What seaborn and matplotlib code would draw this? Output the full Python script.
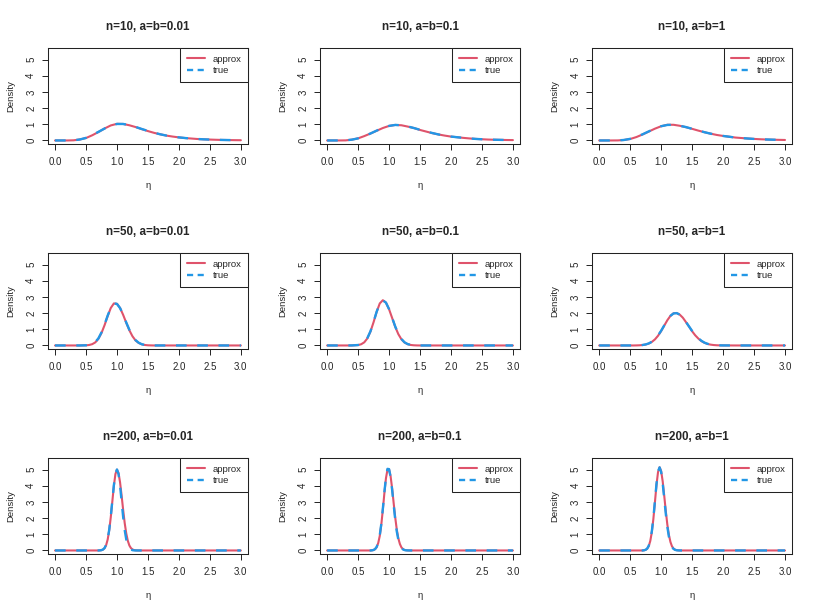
import numpy as np
import pandas as pd
import matplotlib
matplotlib.use('Agg')
import matplotlib.pyplot as plt
from matplotlib.lines import Line2D
import seaborn as sns

sns.set_theme(style='ticks')
plt.rcParams['font.family'] = ['Liberation Sans', 'DejaVu Sans']

RED = '#DF536B'
BLUE = '#2297E6'

n_values = [10, 50, 200]
ab_values = ['0.01', '0.1', '1']

# eta grids per row (n)
eta_n10 = [0.0, 0.1, 0.2, 0.3, 0.4, 0.5, 0.6, 0.7, 0.8, 0.9, 1.0, 1.1, 1.2, 1.3, 1.4, 1.5,
           1.6, 1.7, 1.8, 1.9, 2.0, 2.1, 2.2, 2.3, 2.4, 2.5, 2.6, 2.7, 2.8, 2.9, 3.0]
eta_n50 = [0.0, 0.1, 0.2, 0.3, 0.4, 0.5, 0.55, 0.6, 0.65, 0.7, 0.75, 0.8, 0.85, 0.9, 0.95,
           1.0, 1.05, 1.1, 1.15, 1.2, 1.25, 1.3, 1.35, 1.4, 1.45, 1.5, 1.55, 1.6, 1.65, 1.7,
           1.75, 1.8, 1.85, 1.9, 1.95, 2.0, 2.2, 2.4, 2.6, 2.8, 3.0]
eta_n200 = [0.0, 0.1, 0.2, 0.3, 0.4, 0.5, 0.6, 0.7, 0.725, 0.75, 0.775, 0.8, 0.825, 0.85,
            0.875, 0.9, 0.925, 0.95, 0.975, 1.0, 1.025, 1.05, 1.075, 1.1, 1.125, 1.15,
            1.175, 1.2, 1.225, 1.25, 1.275, 1.3, 1.325, 1.35, 1.4, 1.5, 1.75, 2.0, 2.25,
            2.5, 2.75, 3.0]

# n=10
approx_n10_001 = [0.0, 0.0, 0.0, 0.01, 0.06, 0.15, 0.32, 0.52, 0.74, 0.93, 1.03, 1.02, 0.94, 0.83,
                  0.70, 0.58, 0.47, 0.38, 0.30, 0.24, 0.19, 0.15, 0.12, 0.09, 0.07, 0.055,
                  0.042, 0.032, 0.025, 0.019, 0.015]
true_n10_001 = [0.0, 0.0, 0.0, 0.01, 0.06, 0.16, 0.33, 0.53, 0.74, 0.92, 1.02, 1.02, 0.95, 0.84,
                0.71, 0.59, 0.48, 0.38, 0.30, 0.24, 0.19, 0.15, 0.12, 0.09, 0.07, 0.055,
                0.042, 0.032, 0.025, 0.019, 0.015]
approx_n10_01 = [0.0, 0.0, 0.0, 0.005, 0.05, 0.13, 0.27, 0.43, 0.60, 0.77, 0.90, 0.96, 0.94, 0.86,
                 0.77, 0.65, 0.55, 0.45, 0.37, 0.30, 0.24, 0.20, 0.16, 0.125, 0.095, 0.075,
                 0.056, 0.045, 0.036, 0.028, 0.023]
true_n10_01 = [0.0, 0.0, 0.0, 0.006, 0.05, 0.13, 0.27, 0.43, 0.61, 0.77, 0.90, 0.96, 0.94, 0.87,
               0.77, 0.66, 0.55, 0.46, 0.37, 0.30, 0.24, 0.20, 0.16, 0.125, 0.095, 0.075,
               0.056, 0.045, 0.036, 0.028, 0.023]
approx_n10_1 = [0.0, 0.0, 0.0, 0.003, 0.03, 0.09, 0.21, 0.37, 0.55, 0.73, 0.88, 0.97, 0.97, 0.91,
                0.82, 0.72, 0.61, 0.51, 0.42, 0.34, 0.28, 0.23, 0.18, 0.15, 0.12, 0.095,
                0.075, 0.06, 0.048, 0.038, 0.03]
true_n10_1 = [0.0, 0.0, 0.0, 0.004, 0.03, 0.10, 0.22, 0.38, 0.56, 0.73, 0.88, 0.96, 0.97, 0.91,
              0.83, 0.72, 0.62, 0.51, 0.42, 0.34, 0.28, 0.23, 0.18, 0.15, 0.12, 0.095,
              0.075, 0.06, 0.048, 0.038, 0.03]

# n=50
approx_n50_001 = [0.0, 0.0, 0.0, 0.0, 0.0, 0.009, 0.029, 0.08, 0.19, 0.41, 0.77, 1.26, 1.82, 2.32,
                  2.60, 2.58, 2.32, 1.89, 1.40, 0.94, 0.57, 0.31, 0.157, 0.071, 0.029, 0.011,
                  0.004, 0.0, 0.0, 0.0, 0.0, 0.0, 0.0, 0.0, 0.0, 0.0, 0.0, 0.0, 0.0, 0.0, 0.0]
true_n50_001 = [0.0, 0.0, 0.0, 0.0, 0.0, 0.011, 0.034, 0.09, 0.21, 0.44, 0.81, 1.30, 1.85, 2.33,
                2.60, 2.57, 2.31, 1.90, 1.42, 0.97, 0.60, 0.33, 0.17, 0.078, 0.033, 0.013,
                0.005, 0.0, 0.0, 0.0, 0.0, 0.0, 0.0, 0.0, 0.0, 0.0, 0.0, 0.0, 0.0, 0.0, 0.0]
approx_n50_01 = [0.0, 0.0, 0.0, 0.0, 0.002, 0.025, 0.075, 0.195, 0.44, 0.86, 1.44, 2.08, 2.60, 2.80,
                 2.65, 2.24, 1.70, 1.15, 0.70, 0.38, 0.184, 0.08, 0.031, 0.011, 0.003, 0.0,
                 0.0, 0.0, 0.0, 0.0, 0.0, 0.0, 0.0, 0.0, 0.0, 0.0, 0.0, 0.0, 0.0, 0.0, 0.0]
true_n50_01 = [0.0, 0.0, 0.0, 0.0, 0.003, 0.028, 0.082, 0.21, 0.46, 0.88, 1.46, 2.09, 2.59, 2.79,
               2.65, 2.25, 1.72, 1.17, 0.72, 0.40, 0.195, 0.086, 0.034, 0.012, 0.004, 0.0,
               0.0, 0.0, 0.0, 0.0, 0.0, 0.0, 0.0, 0.0, 0.0, 0.0, 0.0, 0.0, 0.0, 0.0, 0.0]
approx_n50_1 = [0.0, 0.0, 0.0, 0.0, 0.0, 0.0, 0.0, 0.004, 0.011, 0.026, 0.058, 0.117, 0.218, 0.376,
                0.60, 0.89, 1.225, 1.56, 1.83, 1.99, 2.01, 1.91, 1.72, 1.45, 1.17, 0.88,
                0.63, 0.43, 0.27, 0.165, 0.094, 0.051, 0.026, 0.012, 0.006, 0.003, 0.0, 0.0,
                0.0, 0.0, 0.0]
true_n50_1 = [0.0, 0.0, 0.0, 0.0, 0.0, 0.0, 0.0, 0.005, 0.013, 0.030, 0.064, 0.126, 0.23, 0.39,
              0.62, 0.91, 1.24, 1.57, 1.83, 1.98, 2.00, 1.91, 1.72, 1.46, 1.18, 0.90,
              0.65, 0.45, 0.29, 0.175, 0.10, 0.055, 0.028, 0.013, 0.006, 0.003, 0.0, 0.0,
              0.0, 0.0, 0.0]

# n=200
approx_n200_001 = [0.0, 0.0, 0.0, 0.0, 0.0, 0.0, 0.0, 0.0, 0.006, 0.019, 0.056, 0.143, 0.33, 0.68,
                   1.25, 2.06, 3.03, 4.00, 4.73, 5.00, 4.79, 4.21, 3.39, 2.50, 1.69, 1.05,
                   0.60, 0.31, 0.15, 0.066, 0.027, 0.010, 0.003, 0.001, 0.0, 0.0, 0.0, 0.0,
                   0.0, 0.0, 0.0, 0.0]
true_n200_001 = [0.0, 0.0, 0.0, 0.0, 0.0, 0.0, 0.0, 0.0, 0.007, 0.022, 0.062, 0.155, 0.35, 0.71,
                 1.29, 2.11, 3.08, 4.04, 4.76, 5.01, 4.73, 4.00, 3.03, 2.06, 1.25, 0.68,
                 0.33, 0.143, 0.056, 0.019, 0.006, 0.001, 0.0, 0.0, 0.0, 0.0, 0.0, 0.0,
                 0.0, 0.0, 0.0, 0.0]
approx_n200_01 = [0.0, 0.0, 0.0, 0.0, 0.0, 0.0, 0.0, 0.0, 0.009, 0.029, 0.082, 0.205, 0.456, 0.90,
                  1.60, 2.53, 3.56, 4.47, 5.01, 5.02, 4.59, 3.83, 2.91, 2.03, 1.29, 0.75,
                  0.40, 0.19, 0.085, 0.034, 0.013, 0.005, 0.002, 0.0, 0.0, 0.0, 0.0, 0.0,
                  0.0, 0.0, 0.0, 0.0]
true_n200_01 = [0.0, 0.0, 0.0, 0.0, 0.0, 0.0, 0.0, 0.0, 0.010, 0.032, 0.09, 0.22, 0.48, 0.94,
                1.65, 2.59, 3.62, 4.52, 5.05, 5.03, 4.55, 3.74, 2.80, 1.90, 1.17, 0.66,
                0.34, 0.155, 0.066, 0.025, 0.009, 0.003, 0.001, 0.0, 0.0, 0.0, 0.0, 0.0,
                0.0, 0.0, 0.0, 0.0]
approx_n200_1 = [0.0, 0.0, 0.0, 0.0, 0.0, 0.0, 0.0, 0.0, 0.012, 0.039, 0.109, 0.27, 0.59, 1.14,
                 1.96, 2.99, 4.05, 4.85, 5.15, 4.92, 4.28, 3.39, 2.45, 1.61, 0.97, 0.53,
                 0.26, 0.12, 0.049, 0.019, 0.006, 0.002, 0.001, 0.0, 0.0, 0.0, 0.0, 0.0,
                 0.0, 0.0, 0.0, 0.0]
true_n200_1 = [0.0, 0.0, 0.0, 0.0, 0.0, 0.0, 0.0, 0.0, 0.014, 0.043, 0.118, 0.29, 0.62, 1.19,
               2.02, 3.06, 4.11, 4.89, 5.14, 4.86, 4.15, 3.22, 2.28, 1.47, 0.86, 0.46,
               0.22, 0.097, 0.038, 0.014, 0.005, 0.001, 0.0, 0.0, 0.0, 0.0, 0.0, 0.0,
               0.0, 0.0, 0.0, 0.0]

grids = {10: eta_n10, 50: eta_n50, 200: eta_n200}
curves = {
    (10, '0.01'): (approx_n10_001, true_n10_001),
    (10, '0.1'): (approx_n10_01, true_n10_01),
    (10, '1'): (approx_n10_1, true_n10_1),
    (50, '0.01'): (approx_n50_001, true_n50_001),
    (50, '0.1'): (approx_n50_01, true_n50_01),
    (50, '1'): (approx_n50_1, true_n50_1),
    (200, '0.01'): (approx_n200_001, true_n200_001),
    (200, '0.1'): (approx_n200_01, true_n200_01),
    (200, '1'): (approx_n200_1, true_n200_1),
}

fig, axes = plt.subplots(3, 3, figsize=(8.17, 6.13), dpi=100)
fig.subplots_adjust(left=0.0588, right=0.9694, top=0.9217, bottom=0.0962,
                    wspace=0.3617, hspace=1.135)

# legend handles (R-style short dashes in the key)
leg_handles = [Line2D([], [], color=RED, lw=1.5),
               Line2D([], [], color=BLUE, lw=1.7, linestyle=(0, (2.6, 1.9)))]

for i, n in enumerate(n_values):
    for j, ab in enumerate(ab_values):
        ax = axes[i, j]
        approx, true = curves[(n, ab)]
        df = pd.DataFrame({'eta': grids[n], 'approx': approx, 'true': true})
        sns.lineplot(data=df, x='eta', y='approx', color=RED, lw=1.5, ax=ax)
        sns.lineplot(data=df, x='eta', y='true', color=BLUE, lw=1.7, ax=ax)
        ax.lines[1].set_linestyle((0, (4.5, 4.5)))
        ax.set_xlim(-0.113, 3.113)
        ax.set_ylim(-0.22, 5.72)
        ax.set_xticks([0.0, 0.5, 1.0, 1.5, 2.0, 2.5, 3.0])
        ax.set_xticklabels(['0.0', '0.5', '1.0', '1.5', '2.0', '2.5', '3.0'])
        ax.set_yticks([0, 1, 2, 3, 4, 5])
        ax.tick_params(axis='both', length=4, width=0.7, color='#222222',
                       labelsize=7, direction='out')
        ax.tick_params(axis='x', pad=5.5)
        ax.tick_params(axis='y', pad=4.5)
        for lab in ax.get_yticklabels():
            lab.set_rotation(90)
            lab.set_va('center')
        for s in ax.spines.values():
            s.set_visible(True)
            s.set_color('#222222')
            s.set_linewidth(0.75)
        ax.set_xlabel('η', fontsize=6.8, labelpad=10)
        ax.set_ylabel('Density', fontsize=6.8, labelpad=8)
        ax.set_title(f'n={n}, a=b={ab}', fontsize=8.4, fontweight='bold', pad=13)
        leg = ax.legend(leg_handles, ['approx', 'true'], loc='upper right',
                        borderaxespad=0, fontsize=6.8, fancybox=False, framealpha=1,
                        edgecolor='#222222', handlelength=1.9, handletextpad=0.8,
                        borderpad=0.7, labelspacing=0.3)
        leg.get_frame().set_linewidth(0.75)

fig.savefig('out.png', dpi=100)
